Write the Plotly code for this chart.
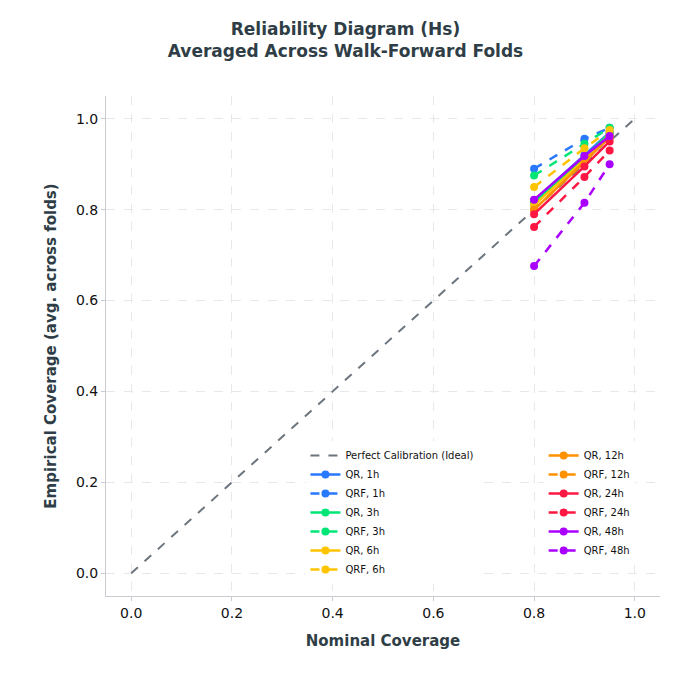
import plotly.graph_objects as go

nominal = [0.8, 0.9, 0.95]
horizons = ["1h", "3h", "6h", "12h", "24h", "48h"]
colors = ["#2979ff", "#00e676", "#ffc400", "#ff9100", "#ff1744", "#aa00ff"]
qr_vals = {
    "1h": [0.82, 0.92, 0.97],
    "3h": [0.815, 0.915, 0.968],
    "6h": [0.81, 0.91, 0.965],
    "12h": [0.80, 0.905, 0.96],
    "24h": [0.79, 0.895, 0.95],
    "48h": [0.822, 0.918, 0.962],
}
qrf_vals = {
    "1h": [0.89, 0.956, 0.98],
    "3h": [0.875, 0.945, 0.98],
    "6h": [0.85, 0.935, 0.975],
    "12h": [0.80, 0.905, 0.96],
    "24h": [0.762, 0.872, 0.93],
    "48h": [0.676, 0.815, 0.90],
}

fig = go.Figure()
fig.add_trace(go.Scatter(x=[0, 1], y=[0, 1], mode="lines", name="Perfect Calibration (Ideal)",
                         line=dict(color="#6c757d", dash="dash", width=2), legend="legend"))
for i, (h, c) in enumerate(zip(horizons, colors)):
    lg = "legend" if i < 3 else "legend2"
    fig.add_trace(go.Scatter(x=nominal, y=qr_vals[h], mode="lines+markers", name=f"QR, {h}",
                             line=dict(color=c, width=2.5), marker=dict(size=8, color=c), legend=lg))
    fig.add_trace(go.Scatter(x=nominal, y=qrf_vals[h], mode="lines+markers", name=f"QRF, {h}",
                             line=dict(color=c, width=2.5, dash="dash"), marker=dict(size=8, color=c), legend=lg))

axis_common = dict(range=[-0.05, 1.05], dtick=0.2, tickformat=".1f", showgrid=True,
                   gridcolor="#e6e9ec", griddash="dash", zeroline=False, showline=True,
                   linecolor="#c8ccd0", ticks="outside", ticklen=4, tickcolor="#c8ccd0",
                   tickfont=dict(size=14, color="#111"))
fig.update_xaxes(**axis_common, title=dict(text="<b>Nominal Coverage</b>", font=dict(size=15, color="#2f3e46")))
fig.update_yaxes(**axis_common, title=dict(text="<b>Empirical Coverage (avg. across folds)</b>", font=dict(size=15, color="#2f3e46")))

leg_common = dict(orientation="v", yanchor="top", font=dict(size=10, color="#111"),
                  bgcolor="rgba(255,255,255,0.9)", borderwidth=0, tracegroupgap=0, itemwidth=30)
fig.update_layout(
    width=675, height=675, plot_bgcolor="white", paper_bgcolor="white",
    font=dict(family="DejaVu Sans"),
    title=dict(text="<b>Reliability Diagram (Hs)<br>Averaged Across Walk-Forward Folds</b>",
               x=0.5, xanchor="center", y=0.96, yanchor="top", font=dict(size=17, color="#2f3e46")),
    margin=dict(l=98, r=23, t=88, b=87),
    legend=dict(x=0.36, y=0.31, xanchor="left", **leg_common),
    legend2=dict(x=0.79, y=0.31, xanchor="left", **leg_common),
)
fig.write_html("out.html")
